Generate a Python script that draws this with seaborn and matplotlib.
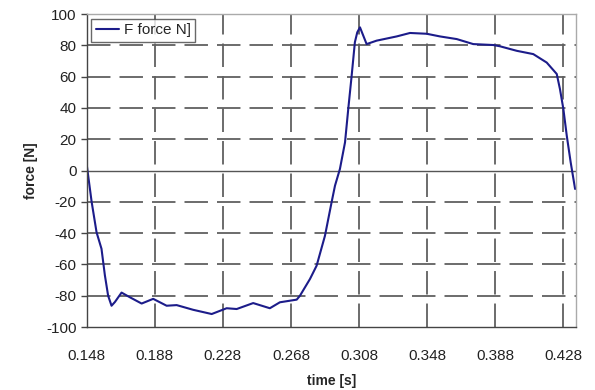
import matplotlib
matplotlib.use("Agg")
import matplotlib.pyplot as plt
import seaborn as sns
import pandas as pd

time_s = [0.1480, 0.1508, 0.1537, 0.1566, 0.1586, 0.1605, 0.1625, 0.1645, 0.1684,
          0.1733, 0.1802, 0.1870, 0.1949, 0.2008, 0.2105, 0.2214, 0.2302, 0.2361,
          0.2458, 0.2556, 0.2615, 0.2714, 0.2733, 0.2792, 0.2831, 0.2880, 0.2919,
          0.2939, 0.2968, 0.2998, 0.3017, 0.3037, 0.3056, 0.3070, 0.3086, 0.3125,
          0.3184, 0.3302, 0.3380, 0.3478, 0.3556, 0.3655, 0.3752, 0.3870, 0.3909,
          0.4008, 0.4105, 0.4184, 0.4243, 0.4262, 0.4282, 0.4302, 0.4325, 0.4351]
force_n = [3.0, -20.0, -39.5, -50.0, -67.0, -80.0, -86.4, -84.0, -78.0,
           -81.0, -85.0, -82.0, -86.4, -86.0, -89.0, -91.7, -88.0, -88.5,
           -84.7, -88.0, -84.2, -82.5, -80.0, -69.3, -60.8, -41.7, -20.3,
           -9.7, 1.0, 18.0, 39.3, 60.6, 82.0, 88.3, 91.5, 80.8,
           83.0, 85.7, 87.9, 87.4, 85.7, 84.0, 80.8, 80.2, 79.4,
           76.5, 74.4, 69.0, 61.7, 52.0, 39.3, 22.2, 5.2, -11.8]
x_ticks = [0.148, 0.188, 0.228, 0.268, 0.308, 0.348, 0.388, 0.428]
y_ticks = [-100, -80, -60, -40, -20, 0, 20, 40, 60, 80, 100]
series_label = "F force N]"

sns.set_style("white")
plt.rcParams['font.family'] = ['Liberation Sans', 'DejaVu Sans']

df = pd.DataFrame({"time": time_s, "force": force_n, "series": series_label})

fig = plt.figure(figsize=(5.95, 3.90), dpi=100)
ax = fig.add_axes([0.146, 0.1615, 0.822, 0.8025])

sns.lineplot(data=df, x="time", y="force", hue="series", palette=["#1c1c8a"],
             linewidth=1.5, ax=ax, estimator=None, sort=False)

ax.set_xlim(0.148, 0.4356)
ax.set_ylim(-100, 100)
ax.set_xticks(x_ticks)
ax.set_xticklabels([f"{v:.3f}" for v in x_ticks])
ax.set_yticks(y_ticks)
ax.set_yticklabels([str(v) for v in y_ticks])

dash = (0, (13, 5))
for v in x_ticks[1:]:
    ax.axvline(v, color="#606060", linestyle=dash, linewidth=1.3, zorder=0)
for v in y_ticks[1:-1]:
    if v == 0:
        ax.axhline(v, color="#555555", linestyle="-", linewidth=1.0, zorder=0)
    else:
        ax.axhline(v, color="#606060", linestyle=dash, linewidth=1.3, zorder=0)

for s in ["top", "right"]:
    ax.spines[s].set_color("#aaaaaa")
    ax.spines[s].set_linewidth(1.0)
for s in ["left", "bottom"]:
    ax.spines[s].set_color("#444444")
    ax.spines[s].set_linewidth(1.0)

ax.tick_params(axis="both", labelsize=11, colors="#222222", direction="out", width=1)
ax.tick_params(axis="y", left=True, length=4, color="#444444")
ax.tick_params(axis="x", bottom=False, pad=12)
ax.set_xlabel("time [s]", fontsize=10, fontweight="bold", labelpad=8)
ax.set_ylabel("force [N]", fontsize=10, fontweight="bold", labelpad=6)

leg = ax.legend(loc="upper left", fontsize=11, frameon=True, fancybox=False,
                borderaxespad=0.3, handlelength=1.5, handletextpad=0.3,
                borderpad=0.3)
leg.get_frame().set_edgecolor("#444444")
leg.get_frame().set_linewidth(1.0)

fig.savefig("out.png", dpi=100)
